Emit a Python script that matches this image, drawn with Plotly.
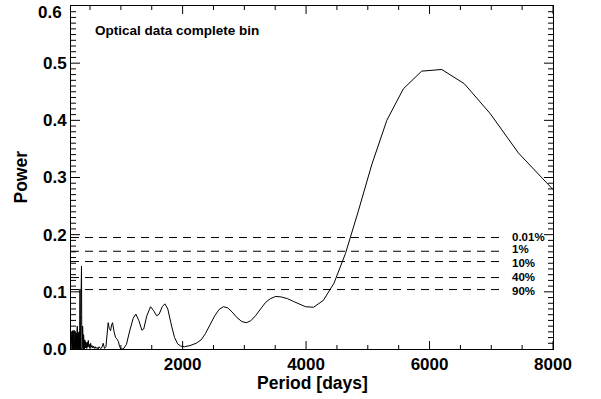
import plotly.graph_objects as go

# ---- data ----
period = [192, 194, 196, 198, 200, 202, 204, 206, 208, 210, 212, 214, 216, 218, 220, 222, 224, 226, 228, 230,
          232, 234, 236, 238, 240, 242, 244, 246, 248, 250, 252, 254, 256, 258, 260, 262, 264, 266, 268, 270,
          272, 274, 276, 278, 280, 282, 284, 286, 288, 290, 292, 294, 296, 298, 300, 302, 304, 306, 308, 310,
          312, 314, 316, 318, 320, 323, 326, 329, 332, 335, 338, 341, 344, 347, 350, 354, 358, 362, 365, 368,
          372, 376, 380, 384, 388, 392, 396, 400, 405, 410, 415, 420, 426,
          433, 440, 447, 455, 463, 472, 481, 490, 500, 510, 521, 532, 544, 556, 569, 583, 598, 614, 630, 648,
          668, 690, 713, 735, 758, 778, 794, 812, 833, 850, 865, 890, 915, 940, 960, 980, 1000, 1040, 1090, 1146,
          1200, 1243, 1290, 1340, 1370, 1420, 1481, 1530, 1580, 1620, 1670, 1713, 1760, 1822, 1870, 1920, 1970, 2030,
          2120, 2220, 2300, 2370, 2440, 2520, 2590, 2660, 2730, 2800, 2880, 2960, 3030, 3100, 3180, 3260, 3340, 3420,
          3510, 3600, 3700, 3800, 3900, 3990, 4120, 4279, 4452, 4638, 4843, 5063, 5308, 5575, 5872, 6198, 6564, 6981,
          7439, 8000]
power = [0.0, 0.02, 0.002, 0.028, 0.0, 0.015, 0.003, 0.03, 0.001, 0.022, 0.0, 0.018, 0.004, 0.032, 0.0, 0.012, 0.002, 0.025, 0.0, 0.03,
         0.003, 0.017, 0.0, 0.026, 0.002, 0.033, 0.0, 0.014, 0.003, 0.024, 0.0, 0.02, 0.002, 0.03, 0.0, 0.016, 0.004, 0.027, 0.0, 0.021,
         0.002, 0.012, 0.0, 0.028, 0.003, 0.018, 0.0, 0.024, 0.002, 0.035, 0.0, 0.04, 0.004, 0.02, 0.0, 0.026, 0.002, 0.03, 0.0, 0.015,
         0.003, 0.022, 0.0, 0.028, 0.002, 0.018, 0.0, 0.03, 0.004, 0.06, 0.105, 0.03, 0.0, 0.02, 0.002, 0.05, 0.1, 0.145, 0.06, 0.0,
         0.028, 0.003, 0.04, 0.005, 0.033, 0.0, 0.025, 0.002, 0.02, 0.0, 0.016, 0.002, 0.013,
         0.002, 0.011, 0.001, 0.012, 0.003, 0.015, 0.004, 0.008, 0.002, 0.01, 0.003, 0.006, 0.002, 0.005, 0.001, 0.004, 0.001, 0.003, 0.0, 0.004,
         0.001, 0.002, 0.01, 0.001, 0.004, 0.03, 0.046, 0.036, 0.032, 0.042, 0.046, 0.03, 0.02, 0.017, 0.013, 0.004, 0.0, 0.0, 0.008, 0.033,
         0.054, 0.061, 0.05, 0.033, 0.035, 0.058, 0.074, 0.067, 0.058, 0.061, 0.074, 0.079, 0.07, 0.04, 0.02, 0.009, 0.005, 0.004,
         0.006, 0.01, 0.016, 0.027, 0.042, 0.058, 0.069, 0.074, 0.072, 0.065, 0.055, 0.048, 0.046, 0.049, 0.058, 0.07, 0.081, 0.088,
         0.092, 0.091, 0.088, 0.083, 0.078, 0.074, 0.073, 0.085, 0.115, 0.167, 0.24, 0.322, 0.40, 0.455, 0.486, 0.489, 0.464, 0.412,
         0.343, 0.279]

sig_labels = ["0.01%", "1%", "10%", "40%", "90%"]
sig_levels = [0.195, 0.171, 0.153, 0.125, 0.104]
sig_label_y = [0.1955, 0.1755, 0.151, 0.1265, 0.1015]
sig_line_start = 192
sig_line_end = 7170
sig_label_x = 7300

y_ticks = [0.0, 0.1, 0.2, 0.3, 0.4, 0.5, 0.6]
x_ticks = [2000, 4000, 6000, 8000]
x_minor_step = 500
y_minor_step = 0.01
x_range = [192, 8000]
y_range = [0, 0.6]

title_text = "Optical data complete bin"
x_title = "Period [days]"
y_title = "Power"

FONT = "Liberation Sans, Arial, Helvetica, sans-serif"
TICKFONT = dict(family=FONT, size=17, color="black", weight="bold")

W, H = 601, 399
ML, MR, MT, MB = 71, 48, 6, 50
plot_w = W - ML - MR
plot_h = H - MT - MB

fig = go.Figure()
fig.add_trace(go.Scatter(x=period, y=power, mode="lines",
                         line=dict(color="black", width=1), showlegend=False, hoverinfo="skip"))

for lvl in sig_levels:
    fig.add_trace(go.Scatter(x=[sig_line_start, sig_line_end], y=[lvl, lvl], mode="lines",
                             line=dict(color="black", width=1, dash="8px,6px"),
                             showlegend=False, hoverinfo="skip"))

# inward tick marks on all four sides (lengths converted from pixels to axis units)
dx = (x_range[1] - x_range[0]) / plot_w
dy = (y_range[1] - y_range[0]) / plot_h
tx, ty = [], []
k = 1
while k * x_minor_step <= x_range[1]:
    v = k * x_minor_step
    if v >= x_range[0]:
        L = (8 if v in x_ticks else 4) * dy
        tx += [v, v, None, v, v, None]
        ty += [y_range[0], y_range[0] + L, None, y_range[1], y_range[1] - L, None]
    k += 1
for k in range(1, 60):
    v = round(k * y_minor_step, 2)
    L = (9 if v in y_ticks else 5) * dx
    tx += [x_range[0], x_range[0] + L, None, x_range[1], x_range[1] - L, None]
    ty += [v, v, None, v, v, None]
fig.add_trace(go.Scatter(x=tx, y=ty, mode="lines", line=dict(color="black", width=1),
                         showlegend=False, hoverinfo="skip", connectgaps=False))

annotations = []
for lab, ly in zip(sig_labels, sig_label_y):
    annotations.append(dict(x=sig_label_x, y=ly, xref="x", yref="y", text=lab, showarrow=False,
                            xanchor="left", yanchor="middle",
                            font=dict(family=FONT, size=11.5, color="black", weight="bold")))
annotations.append(dict(x=0.0456, y=0.93, xref="paper", yref="paper", text=title_text, showarrow=False,
                        xanchor="left", yanchor="middle",
                        font=dict(family=FONT, size=13.5, color="black", weight="bold")))
annotations.append(dict(x=0.5, y=-34 / plot_h, xref="paper", yref="paper", text=x_title, showarrow=False,
                        xanchor="center", yanchor="middle",
                        font=dict(family=FONT, size=17.5, color="black", weight="bold")))
annotations.append(dict(x=-51 / plot_w, y=0.5, xref="paper", yref="paper", text=y_title, showarrow=False,
                        xanchor="center", yanchor="middle", textangle=-90,
                        font=dict(family=FONT, size=17.5, color="black", weight="bold")))
# top y label kept inside the window (as in the reference)
annotations.append(dict(x=-7 / plot_w, y=1 - 6 / plot_h, xref="paper", yref="paper",
                        text=f"{y_ticks[-1]:.1f}", showarrow=False,
                        xanchor="right", yanchor="middle", font=TICKFONT))

fig.update_layout(
    width=W, height=H,
    margin=dict(l=ML, r=MR, t=MT, b=MB),
    paper_bgcolor="white", plot_bgcolor="white",
    annotations=annotations,
    xaxis=dict(range=x_range, tickvals=x_ticks, ticks="", showline=True, linecolor="black", linewidth=1,
               mirror=True, showgrid=False, zeroline=False, tickfont=TICKFONT, automargin=False),
    yaxis=dict(range=y_range, tickvals=y_ticks[:-1], tickformat=".1f", ticks="", showline=True,
               linecolor="black", linewidth=1, mirror=True, showgrid=False, zeroline=False,
               tickfont=TICKFONT, automargin=False),
)

fig.write_html("out.html")
